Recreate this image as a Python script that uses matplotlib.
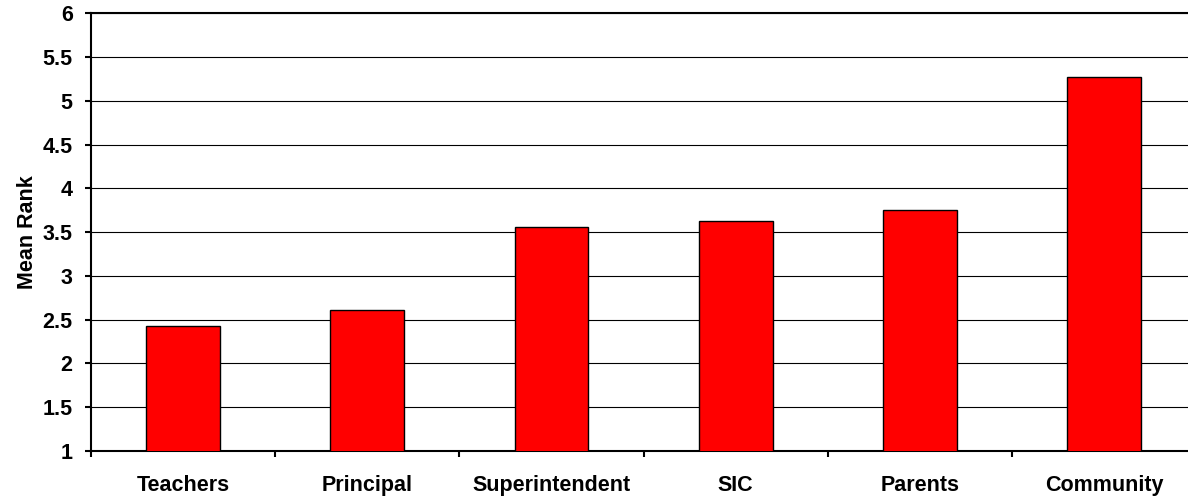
import numpy as np
import matplotlib
matplotlib.use("Agg")
import matplotlib.pyplot as plt

# values
groups = ["Teachers", "Principal", "Superintendent", "SIC", "Parents", "Community"]
mean_rank = [2.43, 2.61, 3.56, 3.63, 3.75, 5.27]
y_ticks = [1, 1.5, 2, 2.5, 3, 3.5, 4, 4.5, 5, 5.5, 6]
y_tick_labels = ["1", "1.5", "2", "2.5", "3", "3.5", "4", "4.5", "5", "5.5", "6"]

plt.rcParams["font.family"] = ["Liberation Sans", "DejaVu Sans"]
plt.rcParams["font.weight"] = "bold"

fig = plt.figure(figsize=(11.88, 5.0), dpi=100)
# plot area runs slightly past the right edge of the picture, as in the source
ax = fig.add_axes([90.7 / 1188, 49 / 500, 1105.8 / 1188, 437.7 / 500])

x = np.arange(len(groups))
ax.bar(x, mean_rank, width=0.4, bottom=0, color="#ff0000",
       edgecolor="black", linewidth=1.0, zorder=3)

ax.set_xlim(-0.5, len(groups) - 0.5)
ax.set_ylim(1, 6)
ax.set_yticks(y_ticks)
ax.set_yticklabels(y_tick_labels, fontsize=15.5, fontweight="bold")
ax.yaxis.grid(True, color="black", linewidth=0.8, zorder=0)

# category labels at centres, tick marks at the boundaries
ax.set_xticks(x)
ax.set_xticklabels(groups, fontsize=15.5, fontweight="bold")
ax.tick_params(axis="x", which="major", length=0, pad=17)
ax.set_xticks(np.arange(len(groups) + 1) - 0.5, minor=True)
ax.tick_params(axis="x", which="minor", length=4, width=1.5, direction="out")
ax.tick_params(axis="y", length=4, width=1.5, direction="out", pad=9)

ax.set_ylabel("Mean Rank", fontsize=15.5, fontweight="bold", labelpad=3)

for side in ["left", "bottom", "top"]:
    ax.spines[side].set_linewidth(1.5)
ax.spines["right"].set_visible(False)

fig.savefig("out.png", dpi=100)
